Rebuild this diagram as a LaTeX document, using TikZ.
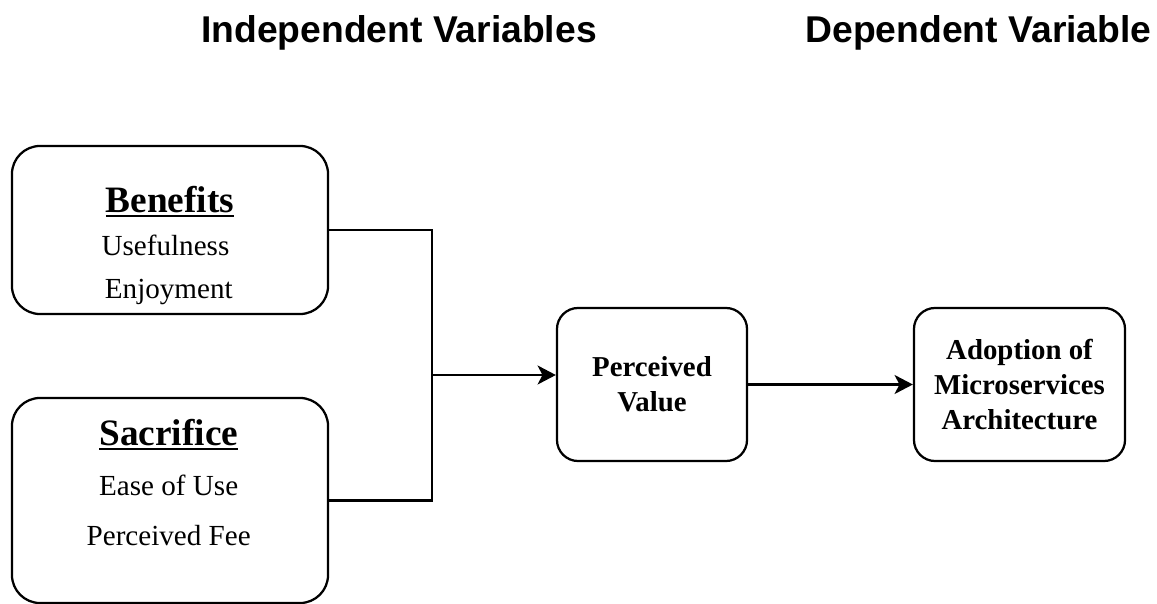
\documentclass[tikz,border=0pt]{standalone}
\usepackage{fontspec}
\setmainfont{Liberation Serif}
\newfontfamily\headfont{Liberation Sans}
\usetikzlibrary{arrows.meta}

\tikzset{
  varbox/.style={draw, line width=1.6pt, rounded corners=20pt, inner sep=0pt},
  conbox/.style={draw, line width=1.6pt, rounded corners=15pt, align=center,
    font=\fontsize{20.5}{25}\selectfont\bfseries},
  link/.style={line width=1.6pt},
  arr/.style={link, -{Stealth[length=13pt, width=13.5pt, inset=3.5pt]}},
  colhead/.style={font=\fontsize{26.5}{30}\selectfont\headfont\bfseries, anchor=base},
  facname/.style={font=\fontsize{26.5}{30}\selectfont\bfseries, anchor=base},
  facitem/.style={font=\fontsize{20.7}{25}\selectfont, anchor=base},
}
% thick underline for the factor names
\newcommand{\ulhead}[1]{\vtop{\hbox{#1}\kern2.2pt\hrule height 1.4pt}}

\begin{document}
\begin{tikzpicture}[x=0.025cm, y=-0.025cm]
    \useasboundingbox (0,0) rectangle (1157,604);
    % column headings
    \node[colhead] (indep) at (399,43) {Independent Variables};
    \node[colhead] (dep) at (978.5,43) {Dependent Variable};
    % independent variables
    \node[varbox, minimum width=7.9cm, minimum height=4.2cm] (ben) at (170,230) {};
    \node[facname] (benname) at (170,212) {\ulhead{Benefits}};
    \node[facitem] (useful) at (165.5,255) {Usefulness};
    \node[facitem] (enjoy) at (168.8,298) {Enjoyment};
    \node[varbox, minimum width=7.9cm, minimum height=5.125cm] (sac) at (170,500.5) {};
    \node[facname] (sacname) at (168.8,445) {\ulhead{Sacrifice}};
    \node[facitem] (ease) at (168.7,495) {Ease of Use};
    \node[facitem] (fee) at (168.7,545) {Perceived Fee};
    % mediator and outcome
    \node[conbox, minimum width=4.75cm, minimum height=3.825cm] (pv) at (652,384.5) {Perceived\\Value};
    \node[conbox, minimum width=5.275cm, minimum height=3.825cm] (adopt) at (1019.5,384.5)
      {Adoption of\\Microservices\\Architecture};
    % connectors
    \coordinate (join) at (432,375);
    \draw[link] (ben.east) -| (join) |- (sac.east);
    \draw[arr] (join) -- (join -| pv.west);
    \draw[arr] (pv) -- (adopt);
\end{tikzpicture}
\end{document}
